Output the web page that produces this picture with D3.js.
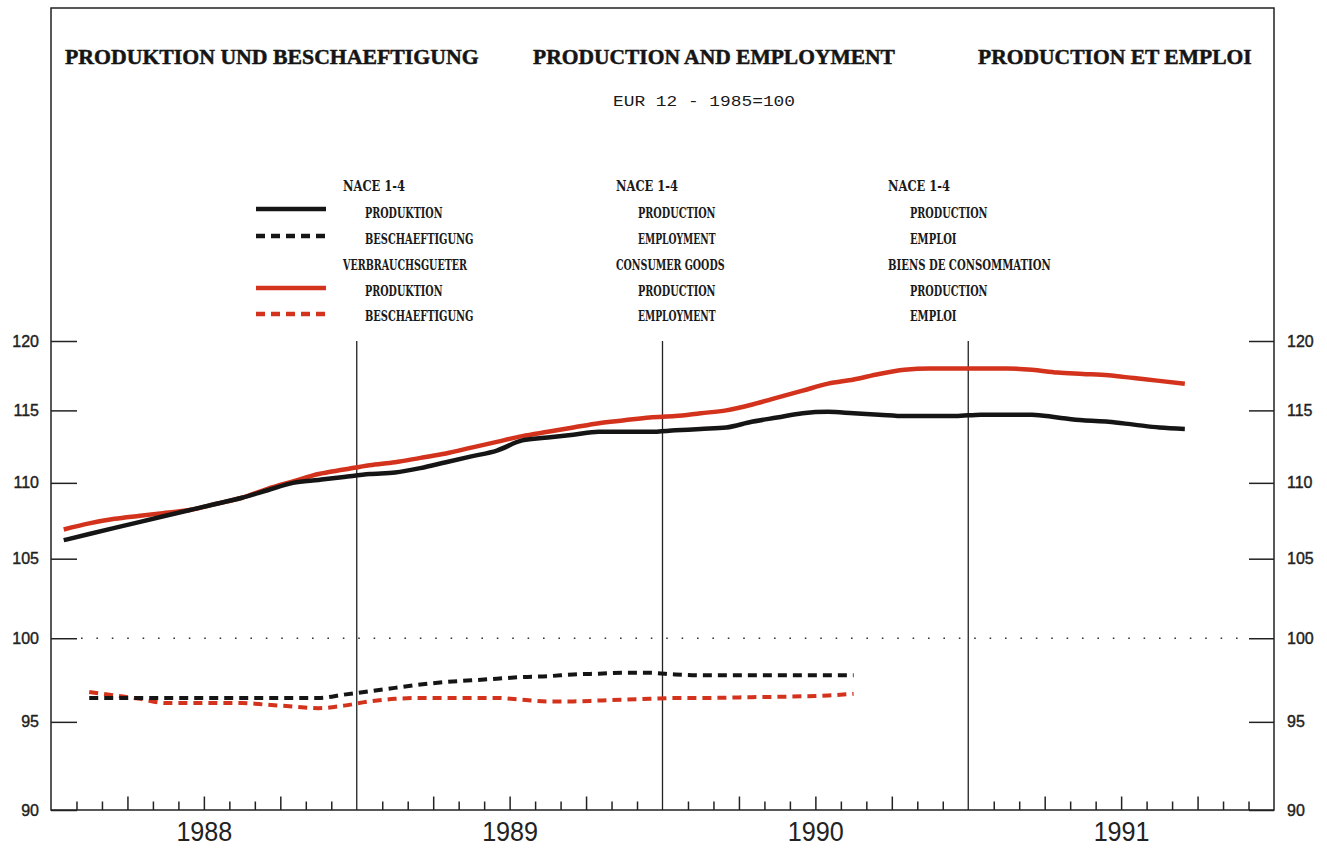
<!DOCTYPE html>
<html><head><meta charset="utf-8">
<script src="https://cdn.jsdelivr.net/npm/d3@7"></script>
<style>html,body{margin:0;padding:0;background:#fff;}svg{display:block;}</style>
</head><body>
<svg id="c" width="1327" height="849"></svg>
<script>
// ---- data (monthly, from Jan 1988) ----
const years = ["1988", "1989", "1990", "1991"];
const yTicks = [90, 95, 100, 105, 110, 115, 120];
// NACE 1-4 production (Jan 1988 .. Sep 1991)
const naceProduction = [106.2,106.6,107.0,107.4,107.8,108.2,108.6,109.0,109.5,110.0,110.2,110.4,
  110.6,110.7,111.0,111.4,111.8,112.2,112.9,113.1,113.3,113.5,113.5,113.5,
  113.6,113.7,113.8,114.2,114.5,114.8,114.9,114.8,114.7,114.6,114.6,114.6,
  114.7,114.7,114.7,114.5,114.3,114.2,114.0,113.8,113.7];
// Consumer goods production (Jan 1988 .. Sep 1991)
const consProduction = [106.9,107.3,107.6,107.8,108.0,108.2,108.6,109.0,109.6,110.1,110.6,110.9,
  111.2,111.4,111.7,112.0,112.4,112.8,113.2,113.5,113.8,114.1,114.3,114.5,
  114.6,114.8,115.0,115.4,115.9,116.4,116.9,117.2,117.6,117.9,118.0,118.0,
  118.0,118.0,117.9,117.7,117.6,117.5,117.3,117.1,116.9];
// Employment series start Feb 1988 (month index 1) .. Aug 1990
const employmentStart = 1;
const naceEmployment = [96.4,96.4,96.4,96.4,96.4,96.4,96.4,96.4,96.4,96.4,96.6,
  96.8,97.0,97.2,97.35,97.45,97.55,97.65,97.7,97.8,97.85,97.9,97.9,
  97.8,97.75,97.75,97.75,97.75,97.75,97.75,97.75];
const consEmployment = [96.75,96.55,96.35,96.1,96.1,96.1,96.1,96.0,95.9,95.8,95.95,
  96.2,96.35,96.4,96.4,96.4,96.4,96.3,96.2,96.2,96.25,96.3,96.35,
  96.4,96.4,96.42,96.45,96.47,96.5,96.55,96.65];

const titles = ["PRODUKTION UND BESCHAEFTIGUNG", "PRODUCTION AND EMPLOYMENT", "PRODUCTION ET EMPLOI"];
const subtitle = "EUR 12  -  1985=100";
const legendCols = [
  ["NACE 1-4", "PRODUKTION", "BESCHAEFTIGUNG", "VERBRAUCHSGUETER", "PRODUKTION", "BESCHAEFTIGUNG"],
  ["NACE 1-4", "PRODUCTION", "EMPLOYMENT", "CONSUMER GOODS", "PRODUCTION", "EMPLOYMENT"],
  ["NACE 1-4", "PRODUCTION", "EMPLOI", "BIENS DE CONSOMMATION", "PRODUCTION", "EMPLOI"]
];

// ---- layout ----
const L = 51, R = 1274, T = 8, B = 810, PT = 341;
const RED = "#d3321c", BLK = "#151515";
const svg = d3.select("#c");

const x = d3.scaleLinear().domain([0, 48]).range([L, R]);
const y = d3.scaleLog().domain([90, 120]).range([B, PT]);

// frame
svg.append("rect").attr("x", L).attr("y", T).attr("width", R - L).attr("height", B - T)
  .attr("fill", "none").attr("stroke", "#222").attr("stroke-width", 1.5);

// fit a text's font size so that its natural width matches a target width
function fitText(sel, target, base) {
  const w = sel.node().getComputedTextLength();
  if (w > 0) sel.attr("font-size", base * target / w);
}

// titles
const titleX = [65, 533, 978], titleW = [414, 362, 274];
titles.forEach((t, i) => {
  const s = svg.append("text").attr("x", titleX[i]).attr("y", 64).text(t)
    .attr("font-family", "'Liberation Serif', 'Times New Roman', serif").attr("font-weight", "bold")
    .attr("font-size", 24).attr("fill", "#151515")
    .attr("stroke", "#151515").attr("stroke-width", 0.5);
  fitText(s, titleW[i], 24);
});
svg.append("text").attr("x", 613).attr("y", 106).text(subtitle)
  .attr("font-family", "'Liberation Mono', monospace").attr("font-size", 15).attr("fill", "#1a1a1a")
  .attr("textLength", 182).attr("lengthAdjust", "spacingAndGlyphs");

// legend texts
const colX = [343, 616, 888], rowY = [191, 218, 244, 270, 296, 321];
legendCols.forEach((col, ci) => {
  col.forEach((t, ri) => {
    const indent = (ri === 0 || ri === 3) ? 0 : 22;
    svg.append("text").attr("x", colX[ci] + indent).attr("y", rowY[ri]).text(t)
      .attr("font-family", "'DejaVu Serif Condensed','DejaVu Serif', serif").attr("font-weight", "bold")
      .attr("font-size", 14).attr("fill", "#1a1a1a")
      .attr("textLength", t.length * 7.75).attr("lengthAdjust", "spacingAndGlyphs");
  });
});
// legend swatches
const sw = [
  {y: 209, c: BLK, dash: null}, {y: 236, c: BLK, dash: "9,6"},
  {y: 288, c: RED, dash: null}, {y: 314, c: RED, dash: "9,6"}
];
sw.forEach(s => {
  svg.append("line").attr("x1", 256).attr("x2", 326).attr("y1", s.y).attr("y2", s.y)
    .attr("stroke", s.c).attr("stroke-width", 4.5).attr("stroke-dasharray", s.dash);
});

// y axes
const fmt = d3.format("d");
const yl = svg.append("g").attr("transform", `translate(${L},0)`)
  .call(d3.axisLeft(y).tickValues(yTicks).tickFormat(fmt).tickSize(-26).tickPadding(12));
const yr = svg.append("g").attr("transform", `translate(${R},0)`)
  .call(d3.axisRight(y).tickValues(yTicks).tickFormat(fmt).tickSize(-25).tickPadding(13));
[yl, yr].forEach(g => {
  g.select(".domain").remove();
  g.selectAll("line").attr("stroke", "#222").attr("stroke-width", 1.5);
  g.selectAll("text").attr("font-family", "'Liberation Sans', Arial, sans-serif")
    .attr("font-size", 16).attr("fill", "#222").attr("stroke", "#222").attr("stroke-width", 0.4);
});

// x axis ticks
const monthTicks = d3.range(1, 48).filter(m => m % 3 !== 0);
const quarterTicks = d3.range(3, 48, 3).filter(m => m % 12 !== 0);
const xa1 = svg.append("g").attr("transform", `translate(0,${B})`)
  .call(d3.axisBottom(x).tickValues(monthTicks).tickSize(-8.5).tickFormat(""));
const xa2 = svg.append("g").attr("transform", `translate(0,${B})`)
  .call(d3.axisBottom(x).tickValues(quarterTicks).tickSize(-13.5).tickFormat(""));
[xa1, xa2].forEach(g => {
  g.select(".domain").remove();
  g.selectAll("line").attr("stroke", "#222").attr("stroke-width", 1.5);
});
const xl = svg.append("g").attr("transform", `translate(0,${B})`)
  .call(d3.axisBottom(x).tickValues([6, 18, 30, 42]).tickSize(0).tickPadding(12)
    .tickFormat((d, i) => years[i]));
xl.select(".domain").remove();
xl.selectAll("text").attr("font-family", "'Liberation Sans', Arial, sans-serif")
  .attr("font-size", 28).attr("fill", "#222").attr("dy", "0.68em")
  .attr("textLength", 56).attr("lengthAdjust", "spacingAndGlyphs");

// year divider lines
svg.selectAll("line.yr").data([12, 24, 36]).enter().append("line").attr("class", "yr")
  .attr("x1", d => x(d)).attr("x2", d => x(d)).attr("y1", y(120)).attr("y2", y(90))
  .attr("stroke", "#222").attr("stroke-width", 1.3);

// dotted 100 line
svg.append("line").attr("x1", L + 30).attr("x2", R - 27).attr("y1", y(100)).attr("y2", y(100))
  .attr("stroke", "#333").attr("stroke-width", 1.6).attr("stroke-dasharray", "1.6,13.8");

// series
const line = d3.line().x(d => x(d.m + 0.5)).y(d => y(d.v)).curve(d3.curveMonotoneX);
const toPts = (arr, start) => arr.map((v, i) => ({m: start + i, v}));
function draw(arr, start, color, dash, w) {
  svg.append("path").datum(toPts(arr, start)).attr("d", line)
    .attr("fill", "none").attr("stroke", color).attr("stroke-width", w)
    .attr("stroke-dasharray", dash).attr("stroke-linejoin", "round");
}
draw(consProduction, 0, RED, null, 4.5);
draw(naceProduction, 0, BLK, null, 4.5);
draw(consEmployment, employmentStart, RED, "9,6", 4);
draw(naceEmployment, employmentStart, BLK, "9,6", 4);
</script>
</body></html>
